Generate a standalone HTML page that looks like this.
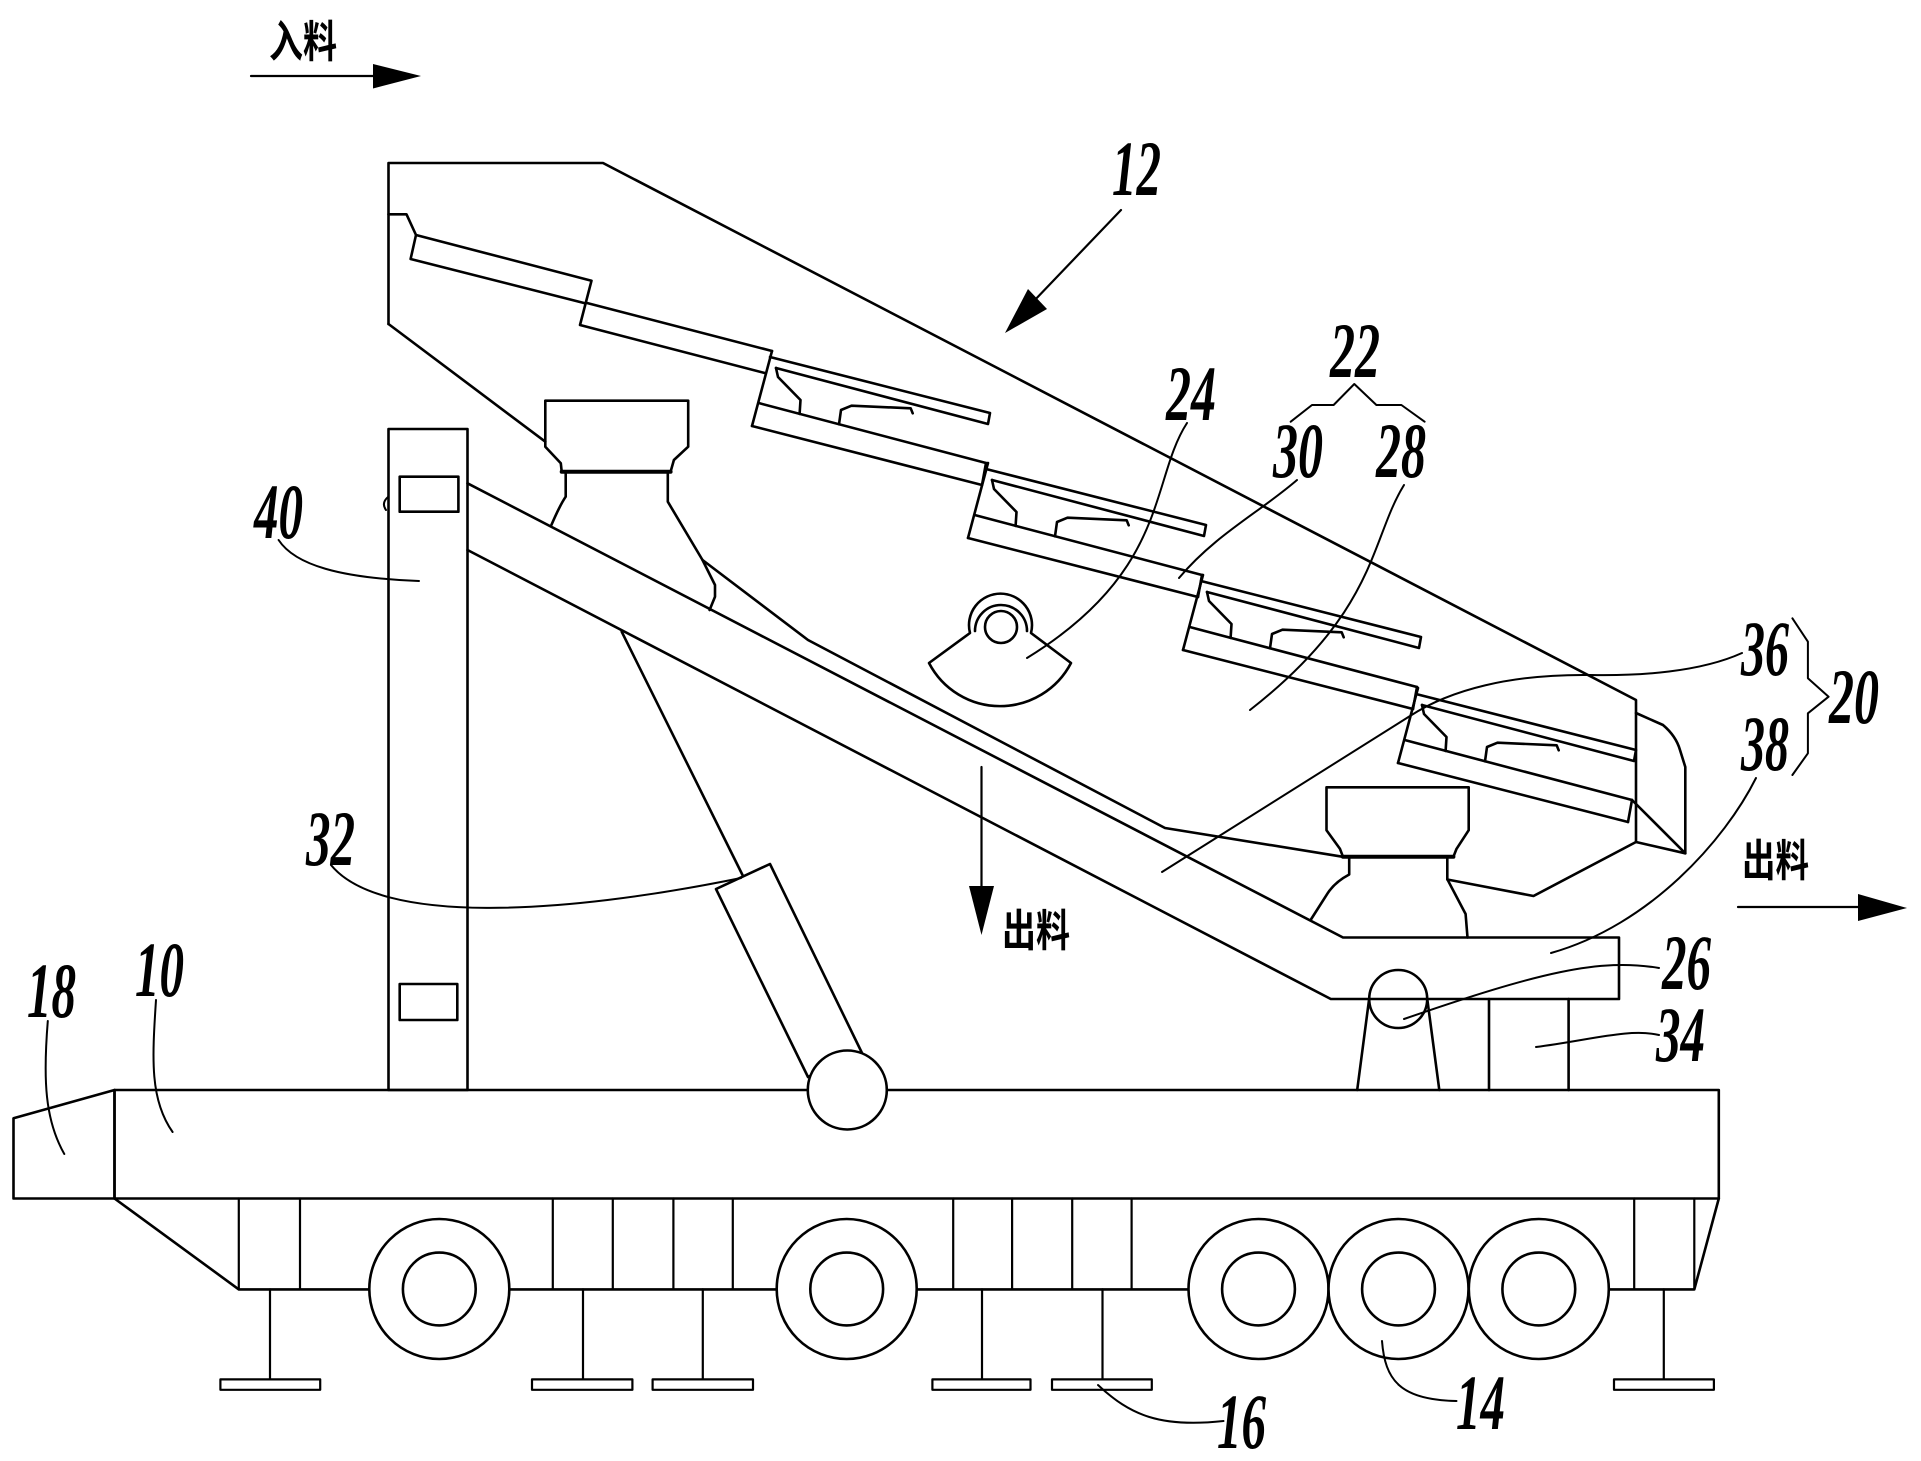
<!DOCTYPE html>
<html>
<head>
<meta charset="utf-8">
<style>
html,body{margin:0;padding:0;background:#fff;}
svg{display:block;}
.n{font-family:"Liberation Serif",serif;font-weight:bold;font-style:italic;font-size:78px;fill:#000;}
.c{font-family:"Liberation Sans","Noto Sans CJK SC",sans-serif;font-weight:bold;font-size:44px;fill:#000;}
</style>
</head>
<body>
<svg width="1921" height="1461" viewBox="0 0 1921 1461" xmlns="http://www.w3.org/2000/svg">
<rect x="0" y="0" width="1921" height="1461" fill="#fff"/>
<g fill="none" stroke="#000" stroke-width="2.6" stroke-linejoin="round" stroke-linecap="round">

<!-- feed arrow -->
<line x1="251" y1="76" x2="374" y2="76" stroke-width="2.2"/>
<!-- hopper outline -->
<polyline points="388.5,324 388.5,163 603,163 1636,700 1636,842 1533.5,896 1447.3,879.5"/>
<line x1="388.5" y1="324" x2="545.3" y2="441.7"/>
<polyline points="702.5,560 808,640 1165,828 1343,856.8"/>
<!-- discharge lip -->
<path d="M1636,713 L1663,725 Q1676,736 1680,750 L1685.3,767 L1685.3,853.3 L1636,842"/>
<line x1="1632" y1="800" x2="1685.3" y2="853.3"/>

<!-- upper plain panels -->
<polyline points="388.5,214.3 406.5,214.3 416,235 591.5,280.7 580,325 765.8,373.3"/>
<polyline points="416,235 410.6,259 584,303"/>
<line x1="586" y1="302.7" x2="772" y2="351"/>

<!-- stepped panels -->
<g id="p3" transform="translate(772,351)">
<line x1="0" y1="0" x2="-20" y2="75"/>
<polyline points="-2,6 218,62 216,73 4,17"/>
<polyline points="4,17 6,26 28.5,49 27.6,62.9"/>
<line x1="-12.4" y1="52.3" x2="214" y2="112"/>
<polyline points="67,73.3 69,59 79.5,54.7 138.7,57.3 140.7,62.3"/>
<line x1="-20" y1="75" x2="210" y2="134"/>
<line x1="214" y1="112" x2="210" y2="134"/>
</g>
<g transform="translate(988,463)">
<line x1="0" y1="0" x2="-20" y2="75"/>
<polyline points="-2,6 218,62 216,73 4,17"/>
<polyline points="4,17 6,26 28.5,49 27.6,62.9"/>
<line x1="-12.4" y1="52.3" x2="214" y2="112"/>
<polyline points="67,73.3 69,59 79.5,54.7 138.7,57.3 140.7,62.3"/>
<line x1="-20" y1="75" x2="210" y2="134"/>
<line x1="214" y1="112" x2="210" y2="134"/>
</g>
<g transform="translate(1203,575)">
<line x1="0" y1="0" x2="-20" y2="75"/>
<polyline points="-2,6 218,62 216,73 4,17"/>
<polyline points="4,17 6,26 28.5,49 27.6,62.9"/>
<line x1="-12.4" y1="52.3" x2="214" y2="112"/>
<polyline points="67,73.3 69,59 79.5,54.7 138.7,57.3 140.7,62.3"/>
<line x1="-20" y1="75" x2="210" y2="134"/>
<line x1="214" y1="112" x2="210" y2="134"/>
</g>
<g transform="translate(1418,688)">
<line x1="0" y1="0" x2="-20" y2="75"/>
<polyline points="-2,6 218,62 216,73 4,17"/>
<polyline points="4,17 6,26 28.5,49 27.6,62.9"/>
<line x1="-12.4" y1="52.3" x2="214" y2="112"/>
<polyline points="67,73.3 69,59 79.5,54.7 138.7,57.3 140.7,62.3"/>
<line x1="-20" y1="75" x2="210" y2="134"/>
<line x1="214" y1="112" x2="210" y2="134"/>
</g>

<!-- post 40 -->
<rect x="388.5" y="429" width="79" height="661"/>
<rect x="399.7" y="476.7" width="58.7" height="35"/>
<rect x="399.7" y="984" width="57.6" height="36"/>
<path d="M388,497 Q381,503 386,510" stroke-width="2"/>

<!-- beam -->
<polyline points="467.5,483.3 1343,937.5 1619,937.5 1619,999 1330.8,999 467.5,550"/>

<!-- upper bell -->
<polyline points="561.7,471.7 560.8,463.3 545.3,446.7 545.3,400.7 688.2,400.7 688.2,446.7 673.9,460 670.6,471.7"/>
<line x1="561.7" y1="471.7" x2="670.6" y2="471.7" stroke-width="4"/>
<path d="M565.7,471.7 L565.7,496.7 Q560,505 551.4,525"/>
<path d="M667.8,471.7 L667.8,501.7 L702.5,560 L715,585 L715,596.7 L709.6,610"/>

<!-- lower bell -->
<polyline points="1343,856.8 1340,848.9 1326.5,830.2 1326.5,787.3 1468.7,787.3 1468.7,830.2 1456.5,848.9 1453.4,856.8"/>
<line x1="1343" y1="856.8" x2="1453.4" y2="856.8" stroke-width="4"/>
<path d="M1349.2,856.8 L1349.2,874.5 Q1335,882 1327.7,893.2 L1310.6,920"/>
<path d="M1447.3,856.8 L1447.3,879.2 L1465.6,914 L1467.5,937.5"/>

<!-- eccentric 24 -->
<path d="M929,663 L970,633 A31.5,31.5 0 1 1 1031,633 L1071,663 A80,80 0 0 1 929,663 Z"/>
<path d="M975,631 A26,26 0 1 1 1027,631"/>
<circle cx="1001" cy="627" r="16"/>

<!-- cylinder 32 -->
<line x1="621.7" y1="631.7" x2="743" y2="876"/>
<polygon points="716,889 770,864 862,1053 808,1077"/>

<!-- pivot 26 & support 34 -->
<line x1="1369" y1="1000" x2="1357.2" y2="1090"/>
<line x1="1427.4" y1="1000" x2="1439.3" y2="1090"/>
<circle cx="1398.2" cy="999" r="29"/>
<line x1="1489" y1="999" x2="1489" y2="1090"/>
<line x1="1568.6" y1="999" x2="1568.6" y2="1090"/>

<!-- deck -->
<polygon points="13.5,1118.3 114.5,1090 114.5,1198.5 13.5,1198.5"/>
<rect x="114.5" y="1090" width="1604.3" height="108.5"/>
<circle cx="847.3" cy="1090" r="39.5" fill="#fff"/>

<!-- underframe -->
<polyline points="114.5,1198.5 238.8,1289.4 1694.3,1289.4 1718.8,1198.5"/>
<g stroke-width="2.2">
<line x1="238.8" y1="1198.5" x2="238.8" y2="1289.4"/>
<line x1="300" y1="1198.5" x2="300" y2="1289.4"/>
<line x1="552.8" y1="1198.5" x2="552.8" y2="1289.4"/>
<line x1="612.8" y1="1198.5" x2="612.8" y2="1289.4"/>
<line x1="673.4" y1="1198.5" x2="673.4" y2="1289.4"/>
<line x1="732.8" y1="1198.5" x2="732.8" y2="1289.4"/>
<line x1="953.2" y1="1198.5" x2="953.2" y2="1289.4"/>
<line x1="1012.1" y1="1198.5" x2="1012.1" y2="1289.4"/>
<line x1="1072.2" y1="1198.5" x2="1072.2" y2="1289.4"/>
<line x1="1131.6" y1="1198.5" x2="1131.6" y2="1289.4"/>
<line x1="1634.2" y1="1198.5" x2="1634.2" y2="1289.4"/>
<line x1="1694.3" y1="1198.5" x2="1694.3" y2="1289.4"/>
</g>
<!-- outriggers -->
<g stroke-width="2.2">
<line x1="270" y1="1289.4" x2="270" y2="1379.4"/>
<line x1="583" y1="1289.4" x2="583" y2="1379.4"/>
<line x1="702.8" y1="1289.4" x2="702.8" y2="1379.4"/>
<line x1="982" y1="1289.4" x2="982" y2="1379.4"/>
<line x1="1102.5" y1="1289.4" x2="1102.5" y2="1379.4"/>
<line x1="1663.8" y1="1289.4" x2="1663.8" y2="1379.4"/>
<rect x="220.4" y="1379.4" width="99.8" height="10.4"/>
<rect x="532" y="1379.4" width="100.4" height="10.4"/>
<rect x="652.6" y="1379.4" width="100.4" height="10.4"/>
<rect x="932.4" y="1379.4" width="98.1" height="10.4"/>
<rect x="1052" y="1379.4" width="99.8" height="10.4"/>
<rect x="1614" y="1379.4" width="99.9" height="10.4"/>
</g>
<!-- wheels -->
<g fill="#fff">
<circle cx="439.3" cy="1289" r="70"/><circle cx="439.3" cy="1289" r="36.4"/>
<circle cx="846.7" cy="1289" r="70"/><circle cx="846.7" cy="1289" r="36.4"/>
<circle cx="1258.5" cy="1289" r="70"/><circle cx="1258.5" cy="1289" r="36.4"/>
<circle cx="1398.5" cy="1289" r="70"/><circle cx="1398.5" cy="1289" r="36.4"/>
<circle cx="1538.8" cy="1289" r="70"/><circle cx="1538.8" cy="1289" r="36.4"/>
</g>

<!-- other arrows -->
<line x1="1121" y1="210" x2="1032" y2="303" stroke-width="2.2"/>
<line x1="981.5" y1="767" x2="981.5" y2="890" stroke-width="2.2"/>
<line x1="1738" y1="907" x2="1860" y2="907" stroke-width="2.2"/>

<!-- leaders -->
<g stroke-width="2">
<path d="M278.6,540 C295,565 340,578 419,581"/>
<path d="M331,865 C380,925 560,915 741,878"/>
<path d="M47.8,1021 C43,1080 45,1120 64.3,1154"/>
<path d="M156,1000 C152,1060 150,1100 172.6,1132"/>
<path d="M1098,1385 C1130,1415 1160,1428 1223.5,1421"/>
<path d="M1382,1341 C1385,1380 1400,1400 1456.5,1401"/>
<path d="M1187,423 C1150,480 1170,570 1027,658"/>
<path d="M1297,480 C1260,512 1215,535 1179,578"/>
<path d="M1404,485 C1370,540 1378,610 1250,710"/>
<path d="M1742,653 C1700,672 1640,676 1590,675 C1510,674 1450,690 1410,716 L1162,872"/>
<path d="M1756,778 C1725,840 1650,925 1551,953"/>
<path d="M1659,968 C1600,958 1540,972 1404,1019"/>
<path d="M1659,1035 C1630,1028 1590,1040 1536,1047"/>
<polyline points="1290.7,421.7 1312,405 1333.6,405 1354.3,384 1376.4,405 1401.4,405 1424.6,421.7"/>
<polyline points="1792.4,618.3 1807.9,641.7 1807.9,678.3 1828.6,696.7 1807.9,713.3 1807.9,753.3 1792.4,775"/>
</g>
</g>

<!-- arrowheads -->
<g fill="#000" stroke="none">
<polygon points="373,64 421,76 373,88.5"/>
<polygon points="1005,333 1028,289 1047,309"/>
<polygon points="969,886 994,886 981.5,935"/>
<polygon points="1858,894 1907,908 1858,921"/>
</g>

<!-- labels -->
<text class="c" x="269" y="57" textLength="68" lengthAdjust="spacingAndGlyphs">入料</text>
<text class="c" x="1002" y="946" textLength="68" lengthAdjust="spacingAndGlyphs">出料</text>
<text class="c" x="1742" y="876" textLength="67" lengthAdjust="spacingAndGlyphs">出料</text>

<text class="n" x="1112" y="195" textLength="49" lengthAdjust="spacingAndGlyphs">12</text>
<text class="n" x="1166" y="420" textLength="50" lengthAdjust="spacingAndGlyphs">24</text>
<text class="n" x="1330" y="377" textLength="50" lengthAdjust="spacingAndGlyphs">22</text>
<text class="n" x="1273" y="477" textLength="50" lengthAdjust="spacingAndGlyphs">30</text>
<text class="n" x="1376" y="477" textLength="50" lengthAdjust="spacingAndGlyphs">28</text>
<text class="n" x="1741" y="675" textLength="48" lengthAdjust="spacingAndGlyphs">36</text>
<text class="n" x="1741" y="770" textLength="48" lengthAdjust="spacingAndGlyphs">38</text>
<text class="n" x="1829" y="723" textLength="50" lengthAdjust="spacingAndGlyphs">20</text>
<text class="n" x="1662" y="989" textLength="49" lengthAdjust="spacingAndGlyphs">26</text>
<text class="n" x="1656" y="1061" textLength="49" lengthAdjust="spacingAndGlyphs">34</text>
<text class="n" x="254" y="538" textLength="49" lengthAdjust="spacingAndGlyphs">40</text>
<text class="n" x="306" y="865" textLength="49" lengthAdjust="spacingAndGlyphs">32</text>
<text class="n" x="27" y="1017" textLength="49" lengthAdjust="spacingAndGlyphs">18</text>
<text class="n" x="135" y="996" textLength="49" lengthAdjust="spacingAndGlyphs">10</text>
<text class="n" x="1217" y="1448" textLength="49" lengthAdjust="spacingAndGlyphs">16</text>
<text class="n" x="1456" y="1429" textLength="49" lengthAdjust="spacingAndGlyphs">14</text>
</svg>
</body>
</html>
